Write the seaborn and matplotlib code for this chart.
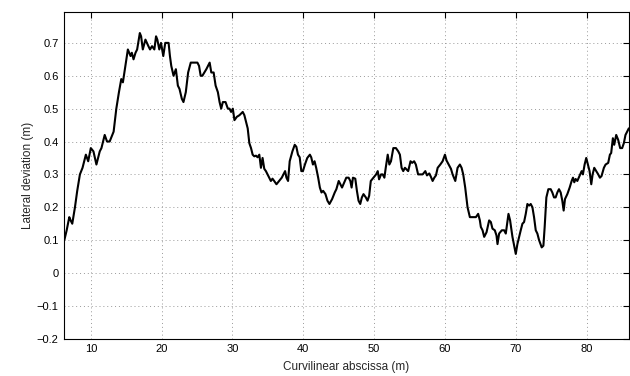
import numpy as np
import pandas as pd
import matplotlib
matplotlib.use("Agg")
import matplotlib.pyplot as plt
from matplotlib.ticker import FuncFormatter
import seaborn as sns

# Values (curvilinear abscissa, lateral deviation)
abscissa = [
    6.26, 6.59, 6.96, 7.15, 7.38, 7.76, 8.08, 8.46, 8.83, 9.07, 9.30, 9.63,
    10.0, 10.37, 10.79, 11.26, 11.50, 11.96, 12.29, 12.66, 13.22, 13.60, 13.97,
    14.30, 14.53, 14.81, 15.23, 15.61, 15.79, 16.03, 16.31, 16.54, 16.92, 17.10,
    17.34, 17.71, 18.13, 18.36, 18.64, 18.97, 19.21, 19.39, 19.67, 19.91, 20.14,
    20.23, 20.51, 20.98, 21.17, 21.36, 21.68, 22.01, 22.29, 22.52, 22.85, 23.08,
    23.41, 23.74, 24.11, 25.05, 25.28, 25.51, 25.75, 26.31, 26.78, 27.01, 27.34,
    27.62, 27.94, 28.18, 28.41, 28.64, 29.02, 29.35, 29.58, 29.81, 30.05, 30.28,
    30.61, 30.98, 31.45, 31.68, 32.15, 32.38, 32.62, 32.85, 33.08, 33.32, 33.55,
    33.79, 34.02, 34.25, 34.49, 34.72, 35.19, 35.42, 35.65, 35.89, 36.21, 36.59,
    36.96, 37.20, 37.43, 37.62, 37.85, 38.08, 38.46, 38.79, 39.02, 39.25, 39.49,
    39.72, 39.95, 40.23, 40.56, 40.93, 41.12, 41.36, 41.59, 41.82, 42.10, 42.34,
    42.57, 42.80, 43.13, 43.41, 43.69, 44.07, 44.44, 44.67, 45.00, 45.23, 45.47,
    45.79, 46.07, 46.40, 46.64, 46.82, 47.01, 47.34, 47.57, 47.80, 48.04, 48.27,
    48.50, 48.83, 49.07, 49.30, 49.53, 49.91, 50.28, 50.51, 50.70, 50.98, 51.21,
    51.45, 51.64, 51.92, 52.15, 52.38, 52.71, 53.08, 53.41, 53.64, 53.88, 54.11,
    54.35, 54.58, 54.81, 55.14, 55.37, 55.65, 55.89, 56.21, 56.85, 57.23, 57.46,
    57.79, 58.03, 58.26, 58.50, 58.73, 58.97, 59.34, 59.67, 60.0, 60.23, 60.52,
    60.85, 61.08, 61.46, 61.78, 62.11, 62.35, 62.58, 62.86, 63.19, 63.52, 63.90,
    64.37, 64.69, 64.93, 65.07, 65.31, 65.54, 65.87, 66.24, 66.48, 66.71, 67.04,
    67.28, 67.42, 67.65, 68.03, 68.36, 68.59, 68.97, 69.20, 69.53, 69.81, 70.0,
    70.23, 70.47, 70.70, 70.94, 71.17, 71.41, 71.64, 71.88, 72.11, 72.35, 72.58,
    72.82, 73.05, 73.29, 73.66, 73.90, 74.08, 74.32, 74.60, 74.93, 75.16, 75.40,
    75.63, 75.87, 76.10, 76.34, 76.57, 76.76, 76.95, 77.28, 77.61, 77.89, 78.08,
    78.26, 78.45, 78.69, 79.01, 79.30, 79.48, 79.72, 79.95, 80.19, 80.42, 80.66,
    80.85, 81.08, 81.36, 81.64, 81.88, 82.11, 82.44, 82.68, 83.05, 83.29, 83.47,
    83.71, 83.90, 84.18, 84.46, 84.74, 85.02, 85.26, 85.49, 85.73, 85.96,
]
deviation = [
    0.10, 0.13, 0.17, 0.16, 0.15, 0.20, 0.25, 0.30, 0.32, 0.34, 0.36, 0.34,
    0.38, 0.37, 0.33, 0.37, 0.38, 0.42, 0.40, 0.40, 0.43, 0.50, 0.55,
    0.59, 0.58, 0.62, 0.68, 0.66, 0.67, 0.65, 0.67, 0.68, 0.73, 0.72,
    0.68, 0.71, 0.69, 0.68, 0.69, 0.68, 0.72, 0.71, 0.68, 0.70, 0.67,
    0.66, 0.70, 0.70, 0.66, 0.63, 0.60, 0.62, 0.57, 0.56, 0.53, 0.52,
    0.55, 0.61, 0.64, 0.64, 0.63, 0.60, 0.60, 0.62, 0.64, 0.61, 0.61,
    0.57, 0.55, 0.52, 0.50, 0.52, 0.52, 0.50, 0.50, 0.49, 0.50, 0.465,
    0.475, 0.48, 0.49, 0.48, 0.44, 0.395, 0.38, 0.36, 0.355, 0.357, 0.352,
    0.36, 0.32, 0.35, 0.317, 0.31, 0.29, 0.28, 0.287, 0.28, 0.27, 0.28,
    0.29, 0.30, 0.31, 0.29, 0.28, 0.34, 0.37, 0.39, 0.384, 0.36, 0.352,
    0.31, 0.31, 0.33, 0.35, 0.36, 0.352, 0.33, 0.34, 0.32, 0.29, 0.26,
    0.245, 0.25, 0.24, 0.22, 0.21, 0.225, 0.245, 0.255, 0.28, 0.27, 0.26,
    0.276, 0.29, 0.29, 0.28, 0.26, 0.29, 0.287, 0.25, 0.22, 0.21, 0.23,
    0.24, 0.23, 0.22, 0.235, 0.28, 0.29, 0.30, 0.31, 0.285, 0.30, 0.30,
    0.29, 0.32, 0.36, 0.33, 0.34, 0.38, 0.38, 0.37, 0.36, 0.32, 0.31,
    0.32, 0.315, 0.31, 0.34, 0.335, 0.34, 0.33, 0.30, 0.30, 0.31, 0.297,
    0.303, 0.292, 0.28, 0.29, 0.297, 0.32, 0.33, 0.34, 0.36, 0.342, 0.33,
    0.317, 0.30, 0.28, 0.32, 0.33, 0.32, 0.30, 0.26, 0.20, 0.17, 0.17,
    0.17, 0.18, 0.16, 0.14, 0.13, 0.11, 0.124, 0.16, 0.155, 0.135, 0.13,
    0.114, 0.088, 0.12, 0.13, 0.13, 0.12, 0.18, 0.16, 0.11, 0.08, 0.058,
    0.088, 0.11, 0.13, 0.15, 0.155, 0.18, 0.21, 0.205, 0.21, 0.20, 0.17,
    0.13, 0.12, 0.10, 0.078, 0.083, 0.14, 0.23, 0.255, 0.255, 0.245, 0.23,
    0.23, 0.245, 0.255, 0.245, 0.22, 0.19, 0.225, 0.24, 0.26, 0.28, 0.29,
    0.276, 0.286, 0.28, 0.296, 0.31, 0.30, 0.33, 0.35, 0.33, 0.31, 0.27,
    0.30, 0.32, 0.31, 0.30, 0.29, 0.295, 0.32, 0.33, 0.335, 0.36, 0.365,
    0.41, 0.39, 0.42, 0.405, 0.38, 0.38, 0.395, 0.42, 0.43, 0.44,
]
x_ticks = [10, 20, 30, 40, 50, 60, 70, 80]
y_ticks = [-0.2, -0.1, 0, 0.1, 0.2, 0.3, 0.4, 0.5, 0.6, 0.7]

df = pd.DataFrame({"s": abscissa, "d": deviation})

sns.set_style("white")
plt.rcParams["font.family"] = ["Liberation Sans", "DejaVu Sans"]

fig = plt.figure(figsize=(6.3, 3.76), dpi=100)
ax = fig.add_axes([0.102, 0.099, 0.896, 0.870])

sns.lineplot(data=df, x="s", y="d", ax=ax, color="black", linewidth=1.5,
             sort=False, estimator=None)

ax.set_xlim(6.25, 85.95)
ax.set_ylim(-0.2, 0.795)
ax.set_xticks(x_ticks)
ax.set_yticks(y_ticks)
ax.yaxis.set_major_formatter(FuncFormatter(lambda v, p: ("%g" % round(v, 2)).replace("-", "\u2212")))

ax.grid(True, linestyle=(0, (1, 3)), color="#999999", linewidth=0.7)
ax.tick_params(direction="in", length=4, width=0.8, top=True, right=True,
               labelsize=8, colors="black", pad=4)
for sp in ax.spines.values():
    sp.set_color("black")
    sp.set_linewidth(0.8)

ax.set_xlabel("Curvilinear abscissa (m)", fontsize=8.5, labelpad=5)
ax.set_ylabel("Lateral deviation (m)", fontsize=8.5, labelpad=2)

fig.savefig("out.png", dpi=100)
